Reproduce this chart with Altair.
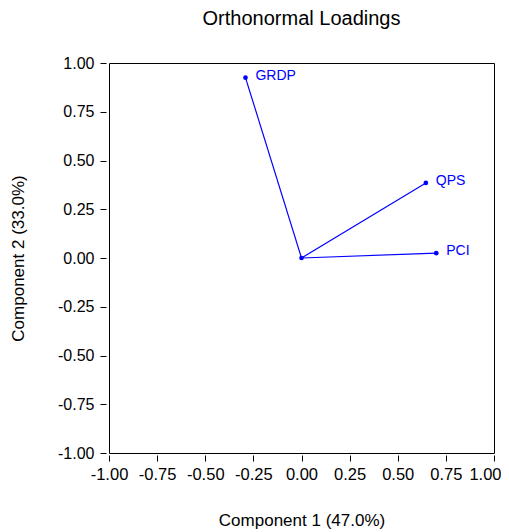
import altair as alt
import pandas as pd

names = ["GRDP", "QPS", "PCI"]
comp1 = [-0.291, 0.646, 0.700]
comp2 = [0.925, 0.385, 0.025]
ticks = [-1.0, -0.75, -0.5, -0.25, 0.0, 0.25, 0.5, 0.75, 1.0]

df = pd.DataFrame({"name": names, "x": comp1, "y": comp2,
                   "x0": [0.0] * 3, "y0": [0.0] * 3})
origin = pd.DataFrame({"x": [0.0], "y": [0.0]})

FONT = "Liberation Sans"
BLUE = "#0000FF"
LBL = "replace(format(datum.value, '.2f'), '\u2212', '-')"

xscale = alt.Scale(domain=[-1, 1], nice=False, zero=False)
yscale = alt.Scale(domain=[-1, 1], nice=False, zero=False)

xaxis = alt.Axis(values=ticks, labelExpr=LBL, grid=False, domain=False,
                 offset=2, tickSize=6, tickColor="black", labelPadding=5,
                 labelFontSize=16.5, labelColor="black", labelFont=FONT,
                 labelOffset={"condition": {"test": "datum.value >= 1", "value": -9}, "value": 0},
                 title="Component 1 (47.0%)", titleFontSize=17, titleFont=FONT,
                 titleFontWeight="normal", titleColor="black",
                 titleY=65, titleBaseline="middle", labelFlush=False)
yaxis = alt.Axis(values=ticks, labelExpr=LBL, grid=False, domain=False,
                 offset=3, tickSize=6, tickColor="black", labelPadding=6,
                 labelFontSize=16, labelColor="black", labelFont=FONT,
                 title="Component 2 (33.0%)", titleFontSize=17, titleFont=FONT,
                 titleFontWeight="normal", titleColor="black",
                 titleX=-88, titleBaseline="middle", labelFlush=False)

rules = alt.Chart(df).mark_rule(color=BLUE, strokeWidth=1.2).encode(
    x=alt.X("x0:Q", scale=xscale, axis=xaxis),
    y=alt.Y("y0:Q", scale=yscale, axis=yaxis),
    x2="x:Q", y2="y:Q")

pts = alt.Chart(df).mark_circle(color=BLUE, size=22, opacity=1).encode(
    x="x:Q", y="y:Q")

opt = alt.Chart(origin).mark_circle(color=BLUE, size=22, opacity=1).encode(
    x="x:Q", y="y:Q")

labels = alt.Chart(df).mark_text(color=BLUE, align="left", baseline="middle",
                                 dx=10, dy=-2, fontSize=14, font=FONT).encode(
    x="x:Q", y="y:Q", text="name:N")

chart = alt.layer(rules, pts, opt, labels).properties(
    width=385, height=390,
    title=alt.TitleParams("Orthonormal Loadings", fontSize=20, font=FONT,
                          fontWeight="normal", color="black", anchor="middle",
                          offset=26),
    autosize=alt.AutoSizeParams(type="none"),
    padding={"left": 101, "top": 55, "right": 7, "bottom": 78},
).configure_view(stroke="black", strokeWidth=1)

chart.save("out.html", embed_options={"renderer": "svg", "actions": False})
